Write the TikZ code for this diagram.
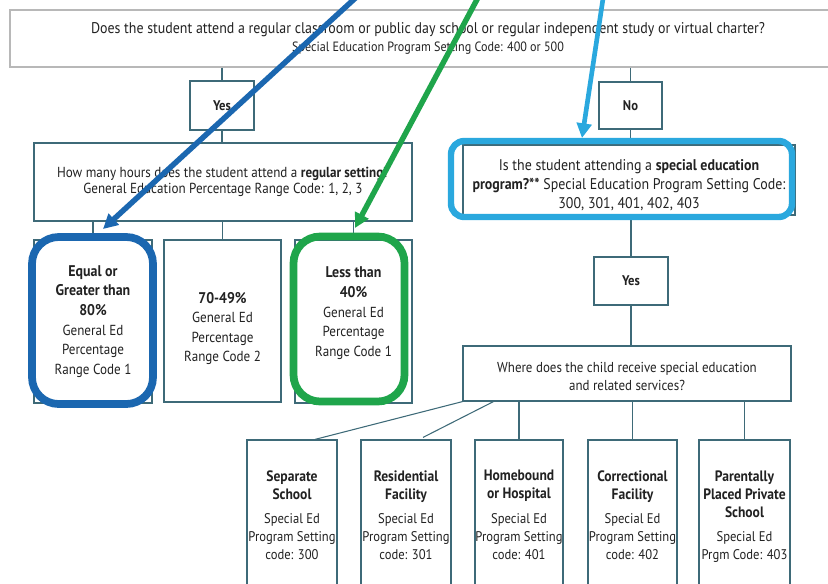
\documentclass[tikz,border=0pt]{standalone}
\usepackage{fontspec}
\setmainfont{PT Sans}[FakeStretch=0.9]
\usetikzlibrary{arrows.meta,calc}
\definecolor{frame}{HTML}{3E6A78}
\definecolor{hlblue}{HTML}{1B67B0}
\definecolor{hlgreen}{HTML}{1FA54B}
\definecolor{hlcyan}{HTML}{2AA8DE}
\definecolor{txt}{HTML}{222222}
\newcommand{\bt}[1]{{\fontsize{11.6}{14.7}\bfseries #1}}
\newcommand{\bb}[1]{{\fontsize{11.3}{13.5}\bfseries #1}}
\begin{document}
\begin{tikzpicture}[x=0.75pt,y=-0.75pt,
  box/.style={draw=frame, line width=0.9pt, fill=white, align=center, inner sep=0pt, text=txt,
              font=\fontsize{10.9}{14.7}\selectfont},
  bbox/.style={box, font=\fontsize{10.5}{13.5}\selectfont, minimum height=120pt},
  topbox/.style={draw=black!28, line width=0.8pt, fill=white, align=center, inner sep=0pt, text=txt,
              font=\fontsize{11.6}{13.5}\selectfont},
  conn/.style={draw=frame, line width=0.8pt},
  hl/.style={draw=#1, line width=5.8pt, inner sep=0pt},
  bigarrow/.style={draw=#1, line width=4.1pt, -{Triangle[length=11pt,width=11pt]}}
]
\useasboundingbox (0,0) rectangle (828,583);
\clip (0,0) rectangle (828,583);

% top question
\node[topbox, minimum width=627pt, minimum height=42.75pt] (top) at (428,38.5)
  {Does the student attend a regular classroom or public day school or regular independent study or virtual charter?\\
   {\fontsize{10.1}{10}\selectfont Special Education Program Setting Code: 400 or 500}};

% yes / no
\node[box, minimum width=48pt, minimum height=36.75pt, font=\fontsize{10.5}{11}\bfseries] (yes1) at (222,105.5) {Yes};
\node[box, minimum width=47.25pt, minimum height=35.25pt, font=\fontsize{10.5}{11}\bfseries] (no) at (630.5,105.5) {No};

% left branch
\node[box, minimum width=283.5pt, minimum height=58.5pt, font=\fontsize{10.9}{12.5}\selectfont] (hours) at (223,182)
  {How many hours does the student attend a \textbf{regular setting}?\\
   General Education Percentage Range Code: 1, 2, 3};
\node[box, minimum width=88.5pt, minimum height=122.25pt] (eq) at (93,321.5)
  {\bt{Equal or}\\ \bt{Greater than}\\ \bt{80\%}\\ General Ed\\ Percentage\\ Range Code 1};
\node[box, minimum width=87.75pt, minimum height=121.5pt] (mid) at (222.5,321)
  {\bt{70-49\%}\\ General Ed\\ Percentage\\ Range Code 2\\[-23.7pt]};
\node[box, minimum width=87.75pt, minimum height=122.25pt] (less) at (353.5,321.5)
  {\bt{Less than}\\ \bt{40\%}\\ General Ed\\ Percentage\\ Range Code 1\\[0pt]};

% right branch
\node[box, minimum width=249pt, minimum height=52.5pt, font=\fontsize{11.6}{13.9}\selectfont] (special) at (629,180)
  {Is the student attending a \textbf{special education}\\
   \textbf{program?**} Special Education Program Setting Code:\\
   300, 301, 401, 402, 403\\[-19.9pt]};
\node[box, minimum width=55.5pt, minimum height=36pt, font=\fontsize{10.5}{11}\bfseries] (yes2) at (631,281) {Yes};
\node[box, minimum width=246pt, minimum height=41.25pt, font=\fontsize{10.8}{13.5}\selectfont] (where) at (627,373.5)
  {Where does the child receive special education\\ and related services?\\[-18pt]};

% bottom row
\node[bbox, minimum width=67.5pt] (sep) at (292,520)
  {\bb{Separate}\\ \bb{School}\\[5pt] Special Ed\\ Program Setting\\ code: 300\\[-6pt]};
\node[bbox, minimum width=67.5pt] (res) at (406,520)
  {\bb{Residential}\\ \bb{Facility}\\[5pt] Special Ed\\ Program Setting\\ code: 301\\[-6pt]};
\node[bbox, minimum width=66pt] (home) at (519,520)
  {\bb{Homebound}\\ \bb{or Hospital}\\[5pt] Special Ed\\ Program Setting\\ code: 401\\[-6pt]};
\node[bbox, minimum width=66.75pt] (corr) at (632.5,520)
  {\bb{Correctional}\\ \bb{Facility}\\[5pt] Special Ed\\ Program Setting\\ code: 402\\[-6pt]};
\node[bbox, minimum width=68.25pt] (par) at (744.5,520)
  {\bb{Parentally}\\ \bb{Placed Private}\\ \bb{School}\\[5pt] Special Ed\\ Prgm Code: 403\\[-6pt]};

% connectors
\draw[conn] (top.south -| yes1.north) -- (yes1.north);
\draw[conn] (top.south -| no.north) -- (no.north);
\draw[conn] (yes1.south) -- (hours.north -| yes1.south);
\draw[conn] (hours.south -| eq.north) -- (eq.north);
\draw[conn] (hours.south -| mid.north) -- (mid.north);
\draw[conn] (hours.south -| less.north) -- (less.north);
\draw[conn] (no.south) -- (special.north -| no.south);
\draw[conn] (special.south -| yes2.north) -- (yes2.north);
\draw[conn] (yes2.south) -- (where.north -| yes2.south);
\draw[conn] (where.south -| home.north) -- (home.north);
\draw[conn] (where.south -| corr.north) -- (corr.north);
\draw[conn] (where.south -| par.north) -- (par.north);
\draw[conn] (where.south west) -- ($(sep.north)+(23,0)$);
\draw[conn] ($(where.south west)+(31,0)$) -- ($(res.north)+(17,-2)$);

% highlights
\node[hl=hlblue, rounded corners=20pt, minimum width=90.75pt, minimum height=125.25pt] (hlb) at (92.5,320.5) {};
\node[hl=hlgreen, rounded corners=20pt, minimum width=83.25pt, minimum height=123.75pt] (hlg) at (349,319) {};
\node[hl=hlcyan, line width=4.8pt, rounded corners=10pt, minimum width=255.75pt, minimum height=57pt] (hlc) at (621.5,179) {};

% big arrows
\coordinate (bs) at (362,-8);
\coordinate (bt) at (103,229);
\coordinate (gs) at (481,-8);
\coordinate (gt) at (355,228);
\coordinate (cs) at (604,-8);
\coordinate (ct) at (582,138);
\draw[bigarrow=hlblue] (bs) -- (bt);
\draw[bigarrow=hlgreen] (gs) -- (gt);
\draw[bigarrow=hlcyan, line width=3.5pt] (cs) -- (ct);
\end{tikzpicture}
\end{document}
